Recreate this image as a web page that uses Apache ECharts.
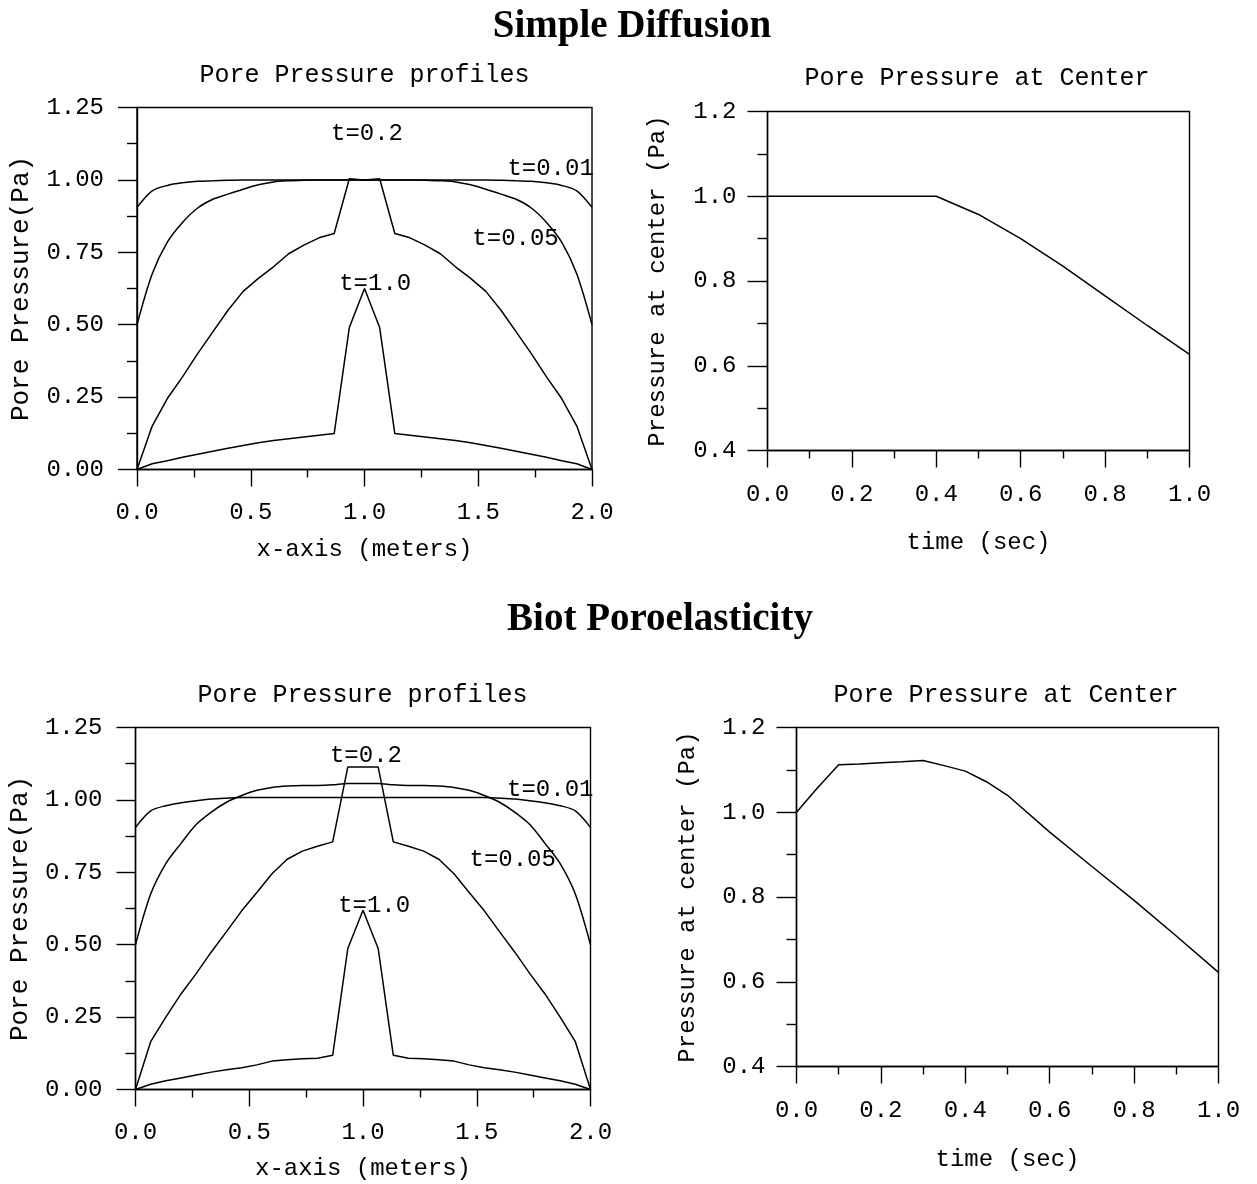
<!DOCTYPE html>
<html>
<head>
<meta charset="utf-8">
<script src="https://cdn.jsdelivr.net/npm/echarts@6/dist/echarts.min.js"></script>
<style>
  html, body { margin: 0; padding: 0; background: #fff; }
  #chart { width: 1257px; height: 1184px; }
</style>
</head>
<body>
<div id="chart"></div>
<script>
// Mesh nodes along the column (m), 30 elements over 2 m
const xNodes = [0, 0.0667, 0.1333, 0.2, 0.2667, 0.3333, 0.4, 0.4667, 0.5333, 0.6, 0.6667,
  0.7333, 0.8, 0.8667, 0.9333, 1.0, 1.0667, 1.1333, 1.2, 1.2667, 1.3333, 1.4, 1.4667,
  1.5333, 1.6, 1.6667, 1.7333, 1.8, 1.8667, 1.9333, 2.0];

// Simple diffusion: pore pressure profiles (Pa)
const diffT001 = [0.905, 0.962, 0.981, 0.990, 0.995, 0.997, 0.999, 1.0, 1.0, 1.0, 1.0, 1.0, 1.0, 1.0, 1.0, 1.0,
  1.0, 1.0, 1.0, 1.0, 1.0, 1.0, 1.0, 1.0, 0.999, 0.997, 0.995, 0.990, 0.981, 0.962, 0.905];
const diffT005 = [0.50, 0.675, 0.785, 0.853, 0.903, 0.933, 0.951, 0.968, 0.983, 0.993, 0.997, 0.999, 1.0, 1.0, 1.0, 1.0,
  1.0, 1.0, 1.0, 0.999, 0.997, 0.993, 0.983, 0.968, 0.951, 0.933, 0.903, 0.853, 0.785, 0.675, 0.50];
const diffT02 = [0, 0.15, 0.245, 0.32, 0.40, 0.475, 0.55, 0.615, 0.66, 0.70, 0.745, 0.775, 0.80, 0.815, 1.004, 1.0,
  1.004, 0.815, 0.80, 0.775, 0.745, 0.70, 0.66, 0.615, 0.55, 0.475, 0.40, 0.32, 0.245, 0.15, 0];
const diffT10 = [0, 0.02, 0.03, 0.042, 0.053, 0.063, 0.073, 0.083, 0.092, 0.100, 0.106, 0.112, 0.118, 0.124, 0.49, 0.625,
  0.49, 0.124, 0.118, 0.112, 0.106, 0.100, 0.092, 0.083, 0.073, 0.063, 0.053, 0.042, 0.03, 0.02, 0];

// Biot poroelasticity: pore pressure profiles (Pa)
const biotT001 = [0.905, 0.962, 0.980, 0.990, 0.997, 1.003, 1.006, 1.008, 1.008, 1.008, 1.008, 1.008, 1.008, 1.008, 1.008, 1.008,
  1.008, 1.008, 1.008, 1.008, 1.008, 1.008, 1.008, 1.008, 1.006, 1.003, 0.997, 0.990, 0.980, 0.962, 0.905];
const biotT005 = [0.50, 0.675, 0.78, 0.85, 0.915, 0.958, 0.992, 1.015, 1.033, 1.043, 1.048, 1.05, 1.05, 1.052, 1.057, 1.057,
  1.057, 1.052, 1.05, 1.05, 1.048, 1.043, 1.033, 1.015, 0.992, 0.958, 0.915, 0.85, 0.78, 0.675, 0.50];
const biotT02 = [0, 0.165, 0.25, 0.33, 0.40, 0.475, 0.545, 0.617, 0.68, 0.745, 0.795, 0.823, 0.84, 0.855, 1.114, 1.114,
  1.114, 0.855, 0.84, 0.823, 0.795, 0.745, 0.68, 0.617, 0.545, 0.475, 0.40, 0.33, 0.25, 0.165, 0];
const biotT10 = [0, 0.018, 0.03, 0.04, 0.05, 0.06, 0.068, 0.075, 0.085, 0.098, 0.103, 0.106, 0.108, 0.118, 0.487, 0.619,
  0.487, 0.118, 0.108, 0.106, 0.103, 0.098, 0.085, 0.075, 0.068, 0.06, 0.05, 0.04, 0.03, 0.018, 0];

// Pressure at the centre vs time
const diffTime = [0, 0.1, 0.2, 0.3, 0.4, 0.5, 0.6, 0.7, 0.8, 0.9, 1.0];
const diffCenter = [1.0, 1.0, 1.0, 1.0, 1.0, 0.957, 0.90, 0.835, 0.765, 0.695, 0.627];
const biotTime = [0, 0.05, 0.1, 0.15, 0.2, 0.25, 0.3, 0.35, 0.4, 0.45, 0.5, 0.6, 0.7, 0.8, 0.9, 1.0];
const biotCenter = [1.0, 1.058, 1.112, 1.114, 1.117, 1.119, 1.122, 1.110, 1.097, 1.072, 1.040, 0.953, 0.872, 0.792, 0.708, 0.622];

// Curve annotations: [x, p, text]
const diffLabels = [[1.011, 1.160, 't=0.2'], [1.818, 1.039, 't=0.01'], [1.664, 0.798, 't=0.05'], [1.047, 0.642, 't=1.0']];
const biotLabels = [[1.013, 1.154, 't=0.2'], [1.823, 1.034, 't=0.01'], [1.658, 0.792, 't=0.05'], [1.049, 0.636, 't=1.0']];

// Tick ranges
const profileXTicks = { min: 0, max: 2, interval: 0.5, digits: 1 };
const profileYTicks = { min: 0, max: 1.25, interval: 0.25, digits: 2 };
const centerXTicks = { min: 0, max: 1, interval: 0.2, digits: 1 };
const centerYTicks = { min: 0.4, max: 1.2, interval: 0.2, digits: 1 };

const MONO = '"Liberation Mono", "Courier New", monospace';
const INK = '#000';

function pairs(xs, ys) { return xs.map((x, i) => [x, ys[i]]); }

function axis(ticks, gridIndex, name, nameSize, nameGap, labelMargin, tickLen, minorLen) {
  return {
    type: 'value', gridIndex: gridIndex,
    min: ticks.min, max: ticks.max, interval: ticks.interval,
    name: name, nameLocation: 'middle', nameGap: nameGap,
    nameTextStyle: { fontFamily: MONO, fontSize: nameSize, color: INK },
    axisLine: { show: true, onZero: false, lineStyle: { color: '#000', width: 1.4 } },
    axisTick: { show: true, inside: false, length: tickLen, lineStyle: { color: '#000', width: 1.4 } },
    minorTick: { show: true, splitNumber: 2, length: minorLen, lineStyle: { color: '#000', width: 1.4 } },
    splitLine: { show: false },
    minorSplitLine: { show: false },
    axisLabel: {
      margin: labelMargin, fontFamily: MONO, fontSize: 24, color: INK,
      formatter: v => Number(v).toFixed(ticks.digits)
    }
  };
}

function curve(idx, data, smooth) {
  return {
    type: 'line', xAxisIndex: idx, yAxisIndex: idx, data: data,
    showSymbol: false, symbol: 'none', smooth: smooth ? 0.3 : false,
    lineStyle: { color: '#000', width: 1.5 }, silent: true, animation: false
  };
}

function labelSeries(idx, labels) {
  return {
    type: 'scatter', xAxisIndex: idx, yAxisIndex: idx, symbolSize: 1,
    itemStyle: { color: 'rgba(0,0,0,0)', opacity: 1 }, silent: true, animation: false,
    data: labels.map(l => ({ value: [l[0], l[1]], name: l[2] })),
    label: { show: true, position: 'inside', formatter: p => p.name, opacity: 1,
      textBorderWidth: 0, fontFamily: MONO, fontSize: 24, color: INK }
  };
}

function text(x, y, str, font) {
  return { type: 'text', x: x, y: y, silent: true,
    style: { text: str, font: font, fill: INK, textAlign: 'center', textVerticalAlign: 'middle' } };
}

const gridBox = { show: true, borderColor: '#000', borderWidth: 1.4, backgroundColor: 'transparent', containLabel: false };

const option = {
  backgroundColor: '#fff',
  animation: false,
  grid: [
    Object.assign({ left: 137, top: 107.5, width: 455, height: 362 }, gridBox),
    Object.assign({ left: 767.5, top: 111.5, width: 422, height: 339 }, gridBox),
    Object.assign({ left: 135.5, top: 727.5, width: 455, height: 362 }, gridBox),
    Object.assign({ left: 796.5, top: 727.5, width: 422, height: 339 }, gridBox)
  ],
  xAxis: [
    axis(profileXTicks, 0, 'x-axis (meters)', 24, 68, 31, 17, 8),
    axis(centerXTicks, 1, 'time (sec)', 24, 80, 32, 17, 8),
    axis(profileXTicks, 2, 'x-axis (meters)', 24, 67, 31, 17, 8),
    axis(centerXTicks, 3, 'time (sec)', 24, 81, 32, 17, 8)
  ],
  yAxis: [
    axis(profileYTicks, 0, 'Pore Pressure(Pa)', 26, 103, 33, 19, 10),
    axis(centerYTicks, 1, 'Pressure at center (Pa)', 24, 98, 31, 20, 10),
    axis(profileYTicks, 2, 'Pore Pressure(Pa)', 26, 102, 33, 19, 10),
    axis(centerYTicks, 3, 'Pressure at center (Pa)', 24, 97, 31, 20, 10)
  ],
  graphic: [
    text(632, 27, 'Simple Diffusion', 'bold 39px "Liberation Serif", "Times New Roman", serif'),
    text(660, 620, 'Biot Poroelasticity', 'bold 39px "Liberation Serif", "Times New Roman", serif'),
    text(364.5, 75, 'Pore Pressure profiles', '25px ' + MONO),
    text(977, 78, 'Pore Pressure at Center', '25px ' + MONO),
    text(362.5, 695, 'Pore Pressure profiles', '25px ' + MONO),
    text(1006, 695, 'Pore Pressure at Center', '25px ' + MONO)
  ],
  series: [
    curve(0, pairs(xNodes, diffT001), true),
    curve(0, pairs(xNodes, diffT005), true),
    curve(0, pairs(xNodes, diffT02), false),
    curve(0, pairs(xNodes, diffT10), false),
    labelSeries(0, diffLabels),
    curve(1, pairs(diffTime, diffCenter), false),
    curve(2, pairs(xNodes, biotT001), true),
    curve(2, pairs(xNodes, biotT005), true),
    curve(2, pairs(xNodes, biotT02), false),
    curve(2, pairs(xNodes, biotT10), false),
    labelSeries(2, biotLabels),
    curve(3, pairs(biotTime, biotCenter), false)
  ]
};

const chart = echarts.init(document.getElementById('chart'), null, { renderer: 'canvas' });
chart.setOption(option);
</script>
</body>
</html>
